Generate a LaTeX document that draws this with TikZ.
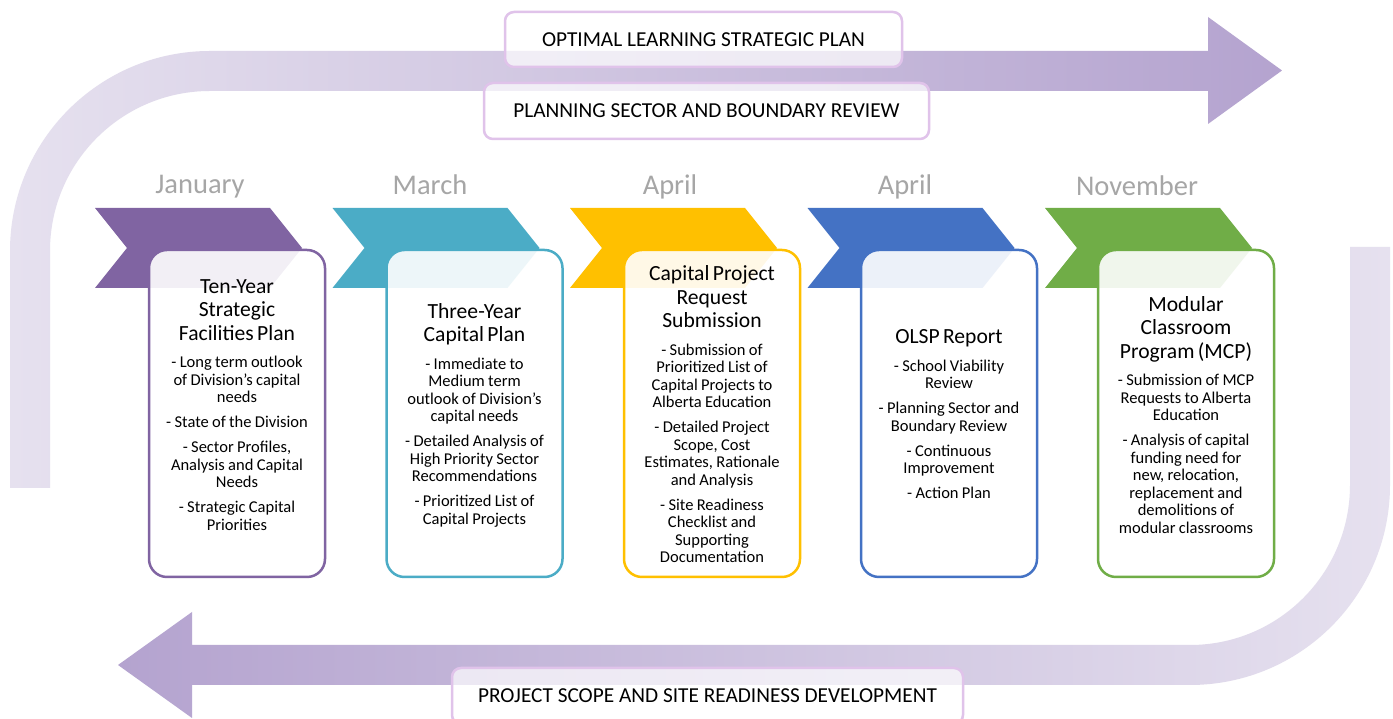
\documentclass[tikz,border=0pt]{standalone}
\usepackage{fontspec}
\setmainfont{Carlito}
\definecolor{cpurple}{HTML}{8064A2}
\definecolor{cteal}{HTML}{4BACC6}
\definecolor{cgold}{HTML}{FFC000}
\definecolor{cblue}{HTML}{4472C4}
\definecolor{cgreen}{HTML}{70AD47}
\definecolor{bandlight}{HTML}{E6E1EF}
\definecolor{banddark}{HTML}{B4A3CF}
\definecolor{bannerline}{HTML}{E0C3EA}
\definecolor{monthgray}{HTML}{A6A6A6}
\newcommand\ctitle{\fontsize{21.6}{23.5}\selectfont}
\newcommand\cbody{\fontsize{16.5}{17.5}\selectfont}
\newcommand\bgap{\par\vspace{7.5pt}}
\newcommand\tgap{\par\vspace{10pt}}
\tikzset{
  banner/.style={draw=bannerline, line width=2.5pt, rounded corners=9pt, fill=white,
    fill opacity=0.7, text opacity=1, font=\fontsize{21.3}{24}\selectfont, inner sep=0pt},
  chev/.style={fill=#1, draw=none},
  card/.style={draw=#1, line width=2.5pt, rounded corners=18pt, fill=white, fill opacity=0.9,
    text opacity=1, minimum width=176pt, minimum height=327pt, text width=172pt,
    align=center, inner sep=0pt},
  month/.style={text=monthgray, font=\fontsize{28.5}{30}\selectfont, inner sep=0pt},
}
\begin{document}
\begin{tikzpicture}[x=1pt,y=1pt]
\useasboundingbox (0,0) rectangle (1393,719);
\fill[white] (0,0) rectangle (1393,719);
% bands
\shade[left color=bandlight, right color=banddark]
  (10,231) -- (10,468) arc[start angle=180, end angle=90, radius=200pt]
  -- (1208,668) -- (1208,702) -- (1282,648.5) -- (1208,595) -- (1208,628)
  -- (210,628) arc[start angle=90, end angle=180, radius=160pt] -- (50,231) -- cycle;
\shade[left color=banddark, right color=bandlight]
  (1390,472) -- (1390,234) arc[start angle=0, end angle=-90, radius=200pt]
  -- (192,34) -- (192,1) -- (118,54) -- (192,107) -- (192,74)
  -- (1190,74) arc[start angle=-90, end angle=0, radius=160pt] -- (1350,472) -- cycle;
% banners
\node[banner, minimum width=397pt, minimum height=55pt] (b1) at (703.5,679.5) {OPTIMAL LEARNING STRATEGIC PLAN};
\node[banner, minimum width=445pt, minimum height=56pt] (b2) at (706.5,608) {PLANNING SECTOR AND BOUNDARY REVIEW};
\node[banner, minimum width=511pt, minimum height=56pt] (b3) at (707.5,23) {PROJECT SCOPE AND SITE READINESS DEVELOPMENT};
% months
\node[month] (m1) at (200,532) {January};
\node[month] (m2) at (430,534) {March};
\node[month] (m3) at (670,532) {April};
\node[month] (m4) at (905,532) {April};
\node[month] (m5) at (1137,533) {November};
% chevrons
\foreach \L/\c in {95/cpurple, 332.5/cteal, 570/cgold, 807.5/cblue, 1045/cgreen}{
  \fill[chev=\c, xshift=\L pt] (0,511) -- (175,511) -- (207,471) -- (175,431) -- (0,431) -- (32,471) -- cycle;
}
% cards
\node[card=cpurple] (c1) at (237,305.5) {%
  \ctitle Ten-Year\\Strategic\\Facilities Plan\tgap
  \cbody - Long term outlook\\of Division's capital\\needs\bgap
  - State of the Division\bgap
  - Sector Profiles,\\Analysis and Capital\\Needs\bgap
  - Strategic Capital\\Priorities\par\kern17pt};
\node[card=cteal] (c2) at (474.5,305.5) {%
  \ctitle Three-Year\\Capital Plan\tgap
  \cbody - Immediate to\\Medium term\\outlook of Division's\\capital needs\bgap
  - Detailed Analysis of\\High Priority Sector\\Recommendations\bgap
  - Prioritized List of\\Capital Projects\par\kern-3pt};
\node[card=cgold] (c3) at (712,305.5) {%
  \ctitle Capital Project\\Request\\Submission\tgap
  \cbody - Submission of\\Prioritized List of\\Capital Projects to\\Alberta Education\bgap
  - Detailed Project\\Scope, Cost\\Estimates, Rationale\\and Analysis\bgap
  - Site Readiness\\Checklist and\\Supporting\\Documentation\par\kern-2pt};
\node[card=cblue] (c4) at (949,305.5) {%
  \ctitle OLSP Report\tgap
  \cbody - School Viability\\Review\bgap
  - Planning Sector and\\Boundary Review\bgap
  - Continuous\\Improvement\bgap
  - Action Plan\par\kern-2pt};
\node[card=cgreen] (c5) at (1186,305.5) {%
  \ctitle Modular\\Classroom\\Program (MCP)\tgap
  \cbody - Submission of MCP\\Requests to Alberta\\Education\bgap
  - Analysis of capital\\funding need for\\new, relocation,\\replacement and\\demolitions of\\modular classrooms\par\kern-3pt};
\end{tikzpicture}
\end{document}
